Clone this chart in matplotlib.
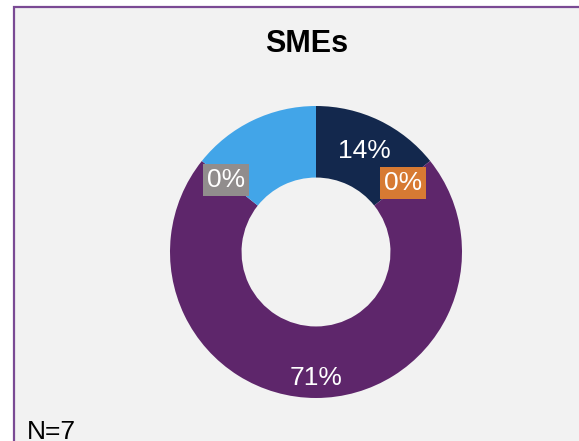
import matplotlib
matplotlib.use("Agg")
import matplotlib.pyplot as plt
from matplotlib.patches import Rectangle
import numpy as np

plt.rcParams["font.family"] = ["Liberation Sans", "DejaVu Sans"]

# data: respondent counts per answer category (N=7), clockwise from top
counts = [1, 0, 5, 0, 1]
labels = ["14%", "0%", "71%", "0%", ""]
colors = ["#13284D", "#D77A33", "#5E266B", "#918D8D", "#42A5E8"]
title = "SMEs"
note = "N=7"

W, H = 579, 441
fig = plt.figure(figsize=(W / 100, H / 100), dpi=100)
fig.patch.set_facecolor("white")

# grey panel with purple border, clipped by the figure edge on right/bottom
fig.patches.append(Rectangle((14 / W, -0.2), 1.2, (H - 7) / H + 0.2,
                             transform=fig.transFigure, facecolor="#F2F2F2",
                             edgecolor="#7A4A94", linewidth=1.6, zorder=-5))

cx, cy, r = 316, 252, 146
ax = fig.add_axes([(cx - r) / W, (H - cy - r) / H, 2 * r / W, 2 * r / H])
ax.set_zorder(5)
ax.set_facecolor("none")
wedges, _ = ax.pie(counts, colors=colors, startangle=90, counterclock=False,
                   radius=1.0, wedgeprops=dict(width=0.49, linewidth=0))
ax.set_xlim(-1, 1)
ax.set_ylim(-1, 1)
ax.set_aspect("equal")
ax.axis("off")

label_r = [0.77, 0.76, 0.86, 0.79, 0.76]
box_colors = [None, "#D77A33", None, "#918D8D", None]
for w, lab, lr, bc in zip(wedges, labels, label_r, box_colors):
    if not lab:
        continue
    ang = np.deg2rad((w.theta1 + w.theta2) / 2)
    x, y = lr * np.cos(ang), lr * np.sin(ang)
    kw = {}
    if bc:
        kw["bbox"] = dict(boxstyle="square,pad=0.15", facecolor=bc, edgecolor="none")
    ax.text(x, y, lab, ha="center", va="center", color="white", fontsize=19, **kw)

fig.text(307 / W, 1 - 44 / H, title, ha="center", va="center",
         fontsize=22, fontweight="bold", color="black")
fig.text(27 / W, 2 / H, note, ha="left", va="baseline", fontsize=19, color="black")

fig.savefig("out.png", dpi=100)
